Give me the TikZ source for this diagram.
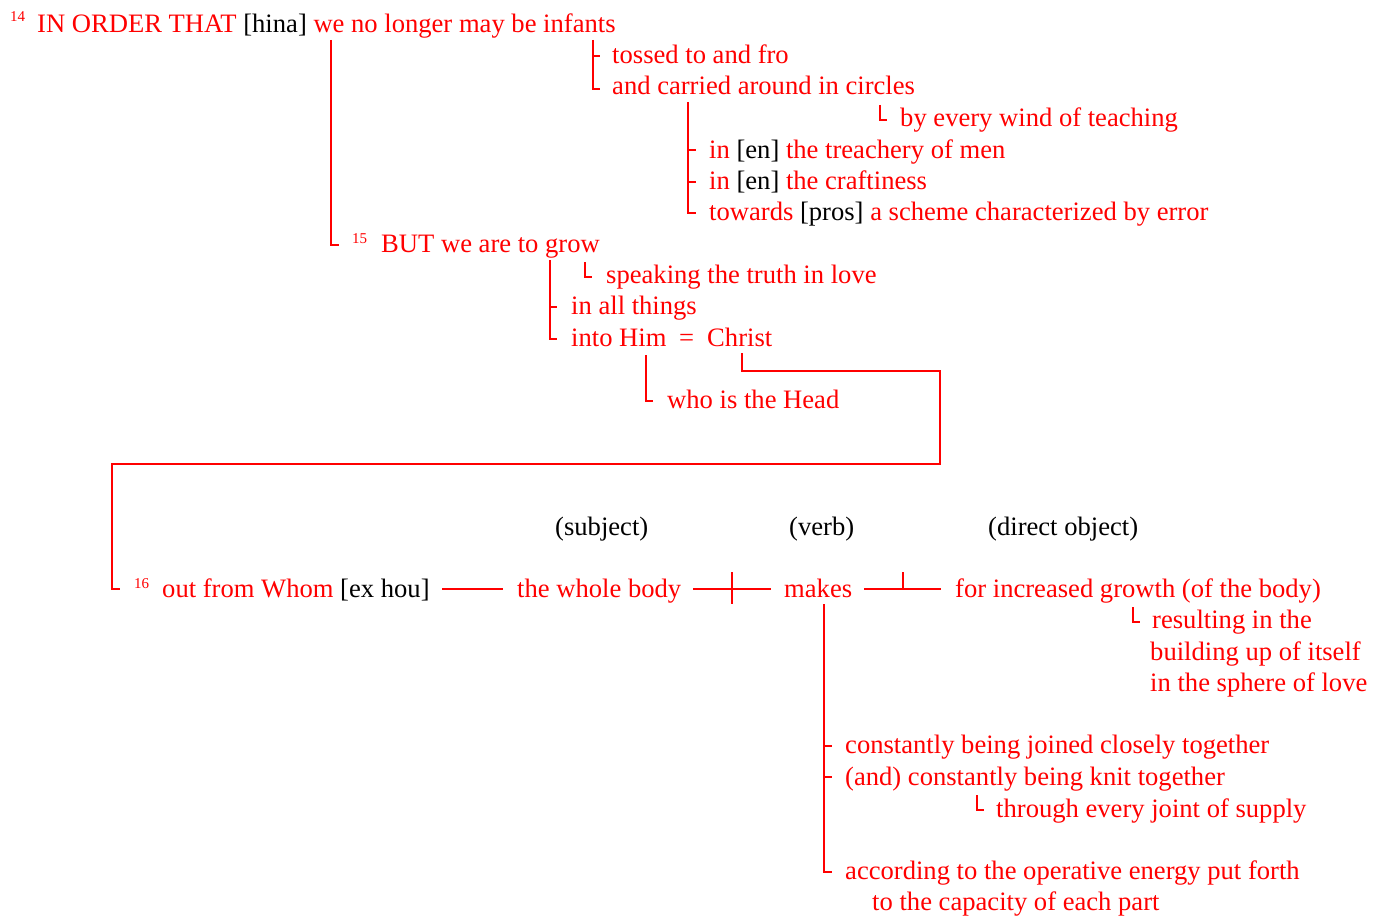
\documentclass[tikz,border=0pt]{standalone}
\usepackage{fontspec}
\setmainfont{Liberation Serif}
\usepackage{tikz}
\usetikzlibrary{calc}
\definecolor{lred}{RGB}{255,0,0}
\newcommand{\blk}[1]{\textcolor{black}{#1}}
\tikzset{
  txt/.style={anchor=base west, inner sep=0pt, text=lred, font=\fontsize{26.6}{29}\selectfont},
  verse/.style={anchor=base west, inner sep=0pt, text=lred, font=\fontsize{15}{16}\selectfont},
  role/.style={txt, text=black},
  bar/.style={draw=lred, line width=1.2pt}
}

\begin{document}
\begin{tikzpicture}[x=1pt,y=-1pt]
		\useasboundingbox (0,0) rectangle (1375,915);
		%%Verse 14
		\node[verse] (v14) at (10,22) {14};
		\node[txt] (infants) at (37,33) {IN ORDER THAT \blk{[hina]} we no longer may be infants};
		\node[txt] (tossed) at (612,64) {tossed to and fro};
		\node[txt] (circles) at (612,95) {and carried around in circles};
		\node[txt] (wind) at (900,126) {by every wind of teaching};
		\node[txt] (treachery) at (709,158) {in \blk{[en]} the treachery of men};
		\node[txt] (craft) at (709,189) {in \blk{[en]} the craftiness};
		\node[txt] (scheme) at (709,220) {towards \blk{[pros]} a scheme characterized by error};
		%%Verse 15
		\node[verse] (v15) at (352,243) {15};
		\node[txt] (grow) at (381,252) {BUT we are to grow};
		\node[txt] (truth) at (606,283) {speaking the truth in love};
		\node[txt] (things) at (571,314) {in all things};
		\node[txt] (him) at (571,346) {into Him};
		\node[txt] (eq) at (679,346) {=};
		\node[txt] (christ) at (707,346) {Christ};
		\node[txt] (head) at (667,408) {who is the Head};
		%%Roles
		\node[role] (subj) at (555,535) {(subject)};
		\node[role] (verb) at (789,535) {(verb)};
		\node[role] (dobj) at (988,535) {(direct object)};
		%%Verse 16
		\node[verse] (v16) at (134,588) {16};
		\node[txt] (whom) at (162,597) {out from Whom \blk{[ex hou]}};
		\node[txt] (body) at (517,597) {the whole body};
		\node[txt] (makes) at (784,597) {makes};
		\node[txt] (growth) at (955,597) {for increased growth (of the body)};
		\node[txt] (result) at (1152,628) {resulting in the};
		\node[txt] (itself) at (1150,660) {building up of itself};
		\node[txt] (love) at (1150,691) {in the sphere of love};
		\node[txt] (joined) at (845,753) {constantly being joined closely together};
		\node[txt] (knit) at (845,785) {(and) constantly being knit together};
		\node[txt] (supply) at (996,817) {through every joint of supply};
		\node[txt] (energy) at (845,879) {according to the operative energy put forth};
		\node[txt] (part) at (872,910) {to the capacity of each part};
		%%Anchor points
		\coordinate (we) at (331,40);
		\coordinate (k-grow) at (339,245);
		\coordinate (infants-r) at (593,40);
		\coordinate (k-tossed) at (600,56);
		\coordinate (k-circles) at (600,89);
		\coordinate (circles-b) at (688,102);
		\coordinate (k-treach) at (696,150);
		\coordinate (k-craft) at (696,182);
		\coordinate (k-scheme) at (696,213);
		\coordinate (grow-b) at (550,260);
		\coordinate (k-things) at (557,307);
		\coordinate (k-him) at (557,339);
		\coordinate (him-b) at (646,355);
		\coordinate (k-head) at (653,401);
		\coordinate (christ-b) at (742,353);
		\coordinate (k-whom) at (120,589);
		\coordinate (makes-b) at (824,604);
		\coordinate (k-joined) at (832,746);
		\coordinate (k-knit) at (832,777);
		\coordinate (k-energy) at (832,872);
		%%Brackets
		\draw[bar] (we) |- (k-grow);
		\draw[bar] (infants-r) |- (k-circles);
		\draw[bar] (infants-r |- k-tossed) -- (k-tossed);
		\draw[bar] (880,105) |- (887,120);
		\draw[bar] (circles-b) |- (k-scheme);
		\draw[bar] (circles-b |- k-treach) -- (k-treach);
		\draw[bar] (circles-b |- k-craft) -- (k-craft);
		\draw[bar] (585,262) |- (592,277);
		\draw[bar] (grow-b) |- (k-him);
		\draw[bar] (grow-b |- k-things) -- (k-things);
		\draw[bar] (him-b) |- (k-head);
		\draw[bar] (christ-b) |- (940,371) |- (112,464) |- (k-whom);
		%%Main line
		\draw[bar] (442,589) -- (503,589);
		\draw[bar] (693,589) -- (771,589);
		\draw[bar] (732,572) -- (732,604);
		\draw[bar] (864,589) -- (941,589);
		\draw[bar] (903,572) -- (903,589);
		\draw[bar] (1133,607) |- (1140,622);
		\draw[bar] (makes-b) |- (k-energy);
		\draw[bar] (makes-b |- k-joined) -- (k-joined);
		\draw[bar] (makes-b |- k-knit) -- (k-knit);
		\draw[bar] (977,795) |- (984,810);
\end{tikzpicture}
\end{document}
